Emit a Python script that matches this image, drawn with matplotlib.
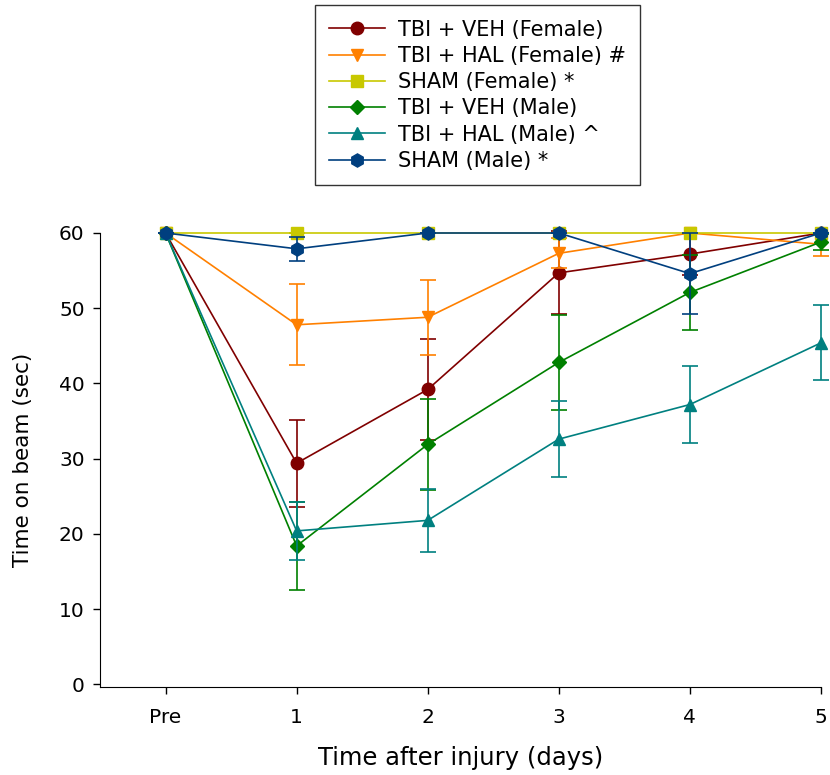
import matplotlib.pyplot as plt

plt.rcParams['font.family'] = ['DejaVu Sans']

# x positions: Pre, day 1..5
days = ['Pre', '1', '2', '3', '4', '5']

veh_f = [60, 29.4, 39.2, 54.7, 57.2, 60]
veh_f_err = [0, 5.8, 6.7, 5.5, 2.8, 0]

hal_f = [60, 47.8, 48.8, 57.3, 60, 58.5]
hal_f_err = [0, 5.4, 5.0, 2.0, 0, 1.5]

sham_f = [60, 60, 60, 60, 60, 60]
sham_f_err = [0, 0, 0, 0, 0, 0]

veh_m = [60, 18.4, 31.9, 42.8, 52.1, 58.8]
veh_m_err = [0, 5.8, 6.1, 6.3, 5.0, 1.1]

hal_m = [60, 20.4, 21.8, 32.6, 37.2, 45.4]
hal_m_err = [0, 3.9, 4.2, 5.1, 5.1, 5.0]

sham_m = [60, 57.9, 60, 60, 54.6, 60]
sham_m_err = [0, 1.6, 0, 0, 5.4, 0]

series = [
    ('TBI + VEH (Female)', veh_f, veh_f_err, '#800000', 'o', 9),
    ('TBI + HAL (Female) #', hal_f, hal_f_err, '#FF8000', 'v', 9),
    ('SHAM (Female) *', sham_f, sham_f_err, '#C8C800', 's', 8),
    ('TBI + VEH (Male)', veh_m, veh_m_err, '#008000', 'D', 7.5),
    ('TBI + HAL (Male) ^', hal_m, hal_m_err, '#008080', '^', 9),
    ('SHAM (Male) *', sham_m, sham_m_err, '#003F7F', 'h', 9.5),
]

fig = plt.figure(figsize=(8.3, 7.75), dpi=100)
ax = fig.add_axes([100 / 830, 1 - 687 / 775, 721 / 830, (687 - 233) / 775])

x = list(range(len(days)))
for label, vals, err, color, marker, ms in series:
    eb = ax.errorbar(x, vals, yerr=err, fmt='none', ecolor=color,
                     elinewidth=1.2, capsize=5.8, capthick=1.2)
    for a in eb.lines[1] + eb.lines[2]:
        a.set_clip_on(False)
    ax.plot(x, vals, color=color, marker=marker, ms=ms, lw=1.2,
            label=label, clip_on=False)

ax.set_xlim(-0.5, 5)
ax.set_ylim(-0.35, 60)
ax.set_xticks(x)
ax.set_xticklabels(days)
ax.set_yticks(range(0, 61, 10))
ax.spines['top'].set_visible(False)
ax.spines['right'].set_visible(False)
ax.tick_params(direction='out', length=5, width=1, labelsize=14.5)
ax.tick_params(axis='x', pad=10)
ax.tick_params(axis='y', pad=6)
ax.set_xlabel('Time after injury (days)', fontsize=17.5, labelpad=14)
ax.set_ylabel('Time on beam (sec)', fontsize=15.5, labelpad=19)

leg = fig.legend(loc='upper center', bbox_to_anchor=(477.5 / 830, 1 - 5 / 775),
                 borderaxespad=0, fontsize=15, frameon=True, fancybox=False,
                 edgecolor='black', handlelength=2.7, handletextpad=0.6,
                 borderpad=0.7, labelspacing=0.3)
leg.get_frame().set_linewidth(1.0)

plt.savefig('out.png', dpi=100)
